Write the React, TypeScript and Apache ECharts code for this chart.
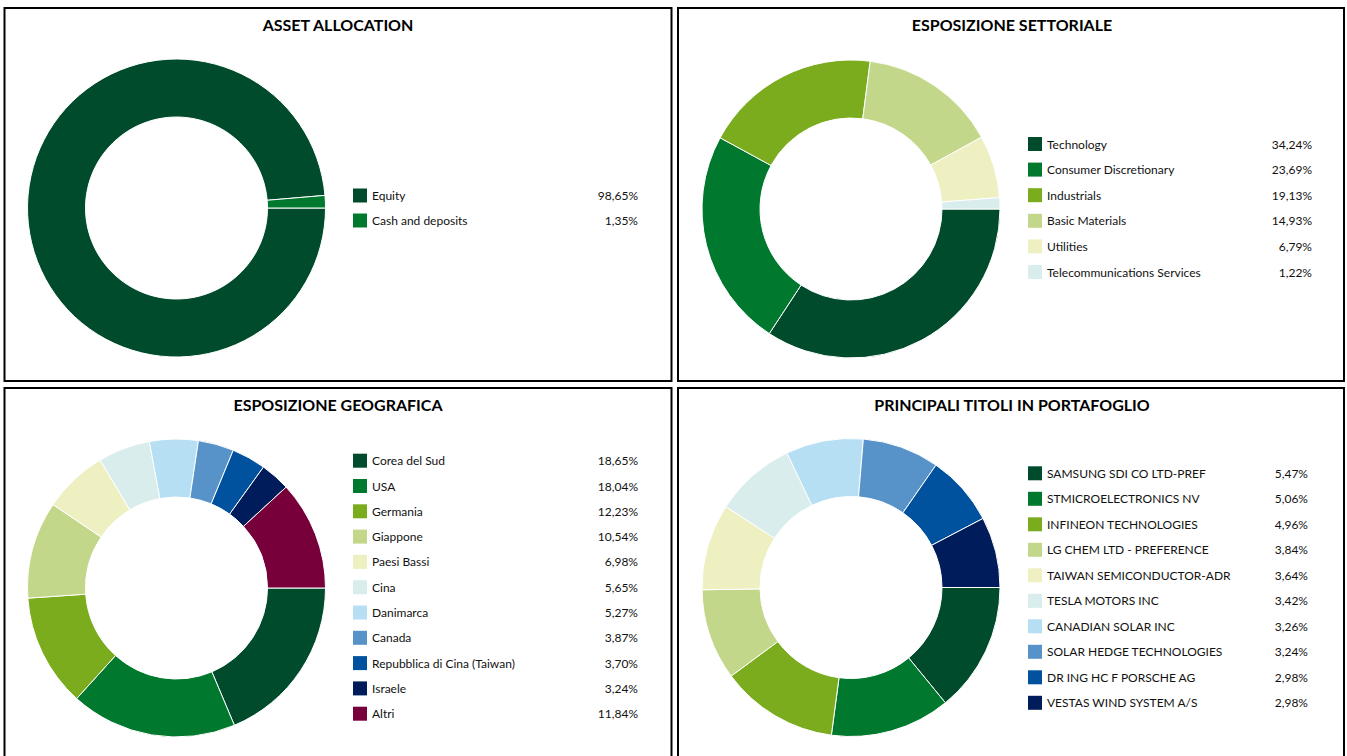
import React, { useEffect, useRef } from "react";
import * as echarts from "echarts";

const ASSET_NAMES = ["Equity", "Cash and deposits"];
const ASSET_VALUES = [98.65, 1.35];

const SECTOR_NAMES = [
  "Technology",
  "Consumer Discretionary",
  "Industrials",
  "Basic Materials",
  "Utilities",
  "Telecommunications Services",
];
const SECTOR_VALUES = [34.24, 23.69, 19.13, 14.93, 6.79, 1.22];

const GEO_NAMES = [
  "Corea del Sud",
  "USA",
  "Germania",
  "Giappone",
  "Paesi Bassi",
  "Cina",
  "Danimarca",
  "Canada",
  "Repubblica di Cina (Taiwan)",
  "Israele",
  "Altri",
];
const GEO_VALUES = [18.65, 18.04, 12.23, 10.54, 6.98, 5.65, 5.27, 3.87, 3.7, 3.24, 11.84];

const HOLDING_NAMES = [
  "SAMSUNG SDI CO LTD-PREF",
  "STMICROELECTRONICS NV",
  "INFINEON TECHNOLOGIES",
  "LG CHEM LTD - PREFERENCE",
  "TAIWAN SEMICONDUCTOR-ADR",
  "TESLA MOTORS INC",
  "CANADIAN SOLAR INC",
  "SOLAR HEDGE TECHNOLOGIES",
  "DR ING HC F PORSCHE AG",
  "VESTAS WIND SYSTEM A/S",
];
const HOLDING_VALUES = [5.47, 5.06, 4.96, 3.84, 3.64, 3.42, 3.26, 3.24, 2.98, 2.98];

const PALETTE = [
  "#004B2C",
  "#00782D",
  "#7BAC1E",
  "#C2D789",
  "#EEF0C2",
  "#D8EDEC",
  "#B6DFF4",
  "#5793C9",
  "#00529E",
  "#001C5A",
  "#78003A",
];

const FONT = "Lato, 'Open Sans', sans-serif";
const TEXT_COLOR = "#111111";

const fmt = (v: number) => v.toFixed(2).replace(".", ",") + "%";

function makePie(names: string[], values: number[], center: [number, number]) {
  return {
    type: "pie",
    center,
    radius: [91, 149],
    startAngle: 0,
    clockwise: true,
    silent: true,
    label: { show: false },
    labelLine: { show: false },
    emphasis: { disabled: true },
    itemStyle: { borderColor: "#ffffff", borderWidth: 1 },
    data: names.map((n, i) => ({
      name: n,
      value: values[i],
      itemStyle: { color: PALETTE[i] },
    })),
  };
}

function makeLegend(
  names: string[],
  values: number[],
  left: number,
  top: number,
  gap: number,
  valueWidth: number
) {
  const map: Record<string, number> = {};
  names.forEach((n, i) => (map[n] = values[i]));
  return {
    orient: "vertical",
    left,
    top,
    padding: 0,
    itemWidth: 14,
    itemHeight: 14,
    itemGap: gap,
    icon: "rect",
    selectedMode: false,
    itemStyle: { borderWidth: 0 },
    data: names,
    formatter: (n: string) => `{n|${n}}{v|${fmt(map[n])}}`,
    textStyle: {
      fontFamily: FONT,
      fontSize: 12,
      color: TEXT_COLOR,
      rich: {
        n: { width: 200, fontFamily: FONT, fontSize: 12, color: TEXT_COLOR, lineHeight: 14 },
        v: {
          width: valueWidth,
          align: "right",
          fontFamily: FONT,
          fontSize: 12,
          color: TEXT_COLOR,
          lineHeight: 14,
        },
      },
    },
  };
}

function panelRect(x: number, y: number, w: number, h: number) {
  return {
    type: "rect",
    shape: { x, y, width: w, height: h },
    style: { fill: "none", stroke: "#000", lineWidth: 2 },
    silent: true,
  };
}

function titleText(text: string, x: number, y: number) {
  return {
    type: "text",
    x,
    y,
    style: {
      text,
      fontFamily: FONT,
      fontSize: 16,
      fontWeight: "bold",
      fill: "#000",
      textAlign: "center",
      textVerticalAlign: "middle",
    },
    silent: true,
  };
}

export default function App() {
  const ref = useRef<HTMLDivElement>(null);

  useEffect(() => {
    if (!ref.current) return;
    const chart = echarts.init(ref.current, undefined, { renderer: "svg" });
    chart.setOption({
      animation: false,
      backgroundColor: "#ffffff",
      graphic: [
        panelRect(4.5, 8, 667, 373),
        panelRect(678, 8, 666, 373),
        panelRect(4.5, 388, 667, 400),
        panelRect(678, 388, 666, 400),
        titleText("ASSET ALLOCATION", 338, 24),
        titleText("ESPOSIZIONE SETTORIALE", 1012, 24),
        titleText("ESPOSIZIONE GEOGRAFICA", 338, 404),
        titleText("PRINCIPALI TITOLI IN PORTAFOGLIO", 1012, 404),
      ],
      legend: [
        makeLegend(ASSET_NAMES, ASSET_VALUES, 353, 188.5, 11, 66),
        makeLegend(SECTOR_NAMES, SECTOR_VALUES, 1028, 137, 11.6, 65),
        makeLegend(GEO_NAMES, GEO_VALUES, 353, 453.7, 11.3, 66),
        makeLegend(HOLDING_NAMES, HOLDING_VALUES, 1028, 466.3, 11.5, 61),
      ],
      series: [
        makePie(ASSET_NAMES, ASSET_VALUES, [176.5, 208]),
        makePie(SECTOR_NAMES, SECTOR_VALUES, [851, 209]),
        makePie(GEO_NAMES, GEO_VALUES, [176.5, 588]),
        makePie(HOLDING_NAMES, HOLDING_VALUES, [851, 587.5]),
      ],
    });
    return () => chart.dispose();
  }, []);

  return (
    <div
      ref={ref}
      style={{ position: "fixed", left: 0, top: 0, width: 1347, height: 756, background: "#fff" }}
    />
  );
}
